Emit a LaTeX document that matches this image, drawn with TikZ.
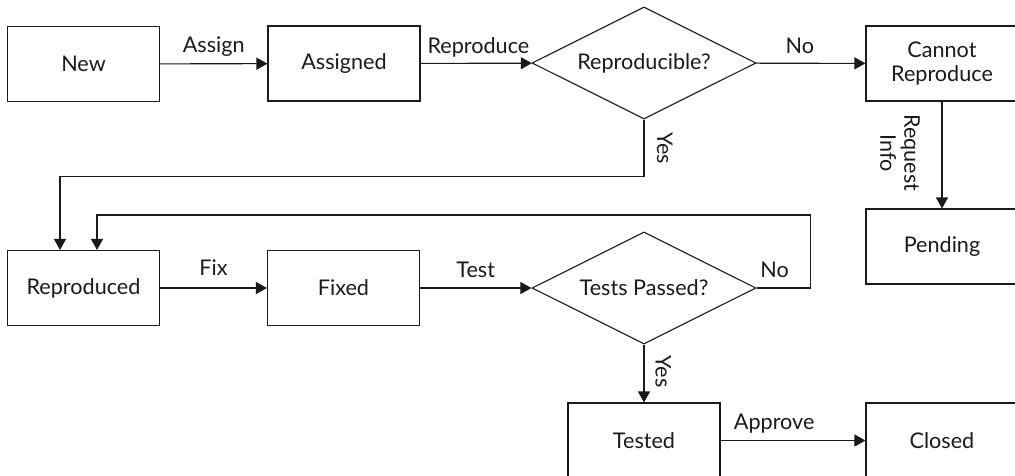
\documentclass[tikz,border=0pt]{standalone}
\usepackage{fontspec}
\setmainfont{Lato}
\usetikzlibrary{arrows.meta,shapes.geometric,calc}
\definecolor{ink}{HTML}{1A1A1A}
\begin{document}
\begin{tikzpicture}[x=1pt,y=-1pt,
  txt/.style={font=\fontsize{21.6}{24}\selectfont, text=ink},
  box/.style={txt, draw=ink, line width=1.1pt, minimum width=152pt, minimum height=75pt, inner sep=0pt, align=center},
  dec/.style={txt, draw=ink, line width=1.1pt, diamond, aspect=2, minimum width=224pt, minimum height=112pt, inner sep=0pt},
  arr/.style={draw=ink, line width=1.1pt, -{Triangle[length=11pt,width=12pt]}},
  lab/.style={txt, anchor=base, inner sep=0pt},
]
\clip (0,0) rectangle (1015,475);
\fill[white] (0,0) rectangle (1015,475);

\node[box] (new) at (83.5,64) {New};
\node[box] (asg) at (344,63.5) {Assigned};
\node[dec] (rep) at (644,63) {Reproducible?};
\node[box] (cnr) at (942,63.5) {Cannot\\Reproduce};
\node[box] (pen) at (942,246.5) {Pending};
\node[box] (rpd) at (83.5,288) {Reproduced};
\node[box] (fix) at (343.5,288) {Fixed};
\node[dec] (tps) at (644,288) {Tests Passed?};
\node[box] (tst) at (644,440.5) {Tested};
\node[box] (cls) at (942,440.5) {Closed};

\draw[arr] (new) -- node[lab, yshift=11pt] (lAssign) {Assign} (asg);
\draw[arr] (asg) -- node[lab, pos=0.52, yshift=10pt] (lRepro) {Reproduce} (rep);
\draw[arr] (rep) -- node[lab, pos=0.4, yshift=10pt] (lNo1) {No} (cnr);
\draw[arr] (cnr) -- (pen);
\node[txt, rotate=-90, align=center, inner sep=0pt] (lReq) at (900,153) {Request\\Info};

\draw[arr] (rep.south) -- ++(0,57) -| ([xshift=-23.5pt]rpd.north);
\node[lab, rotate=-90] (lYes1) at ($(rep.south)+(13,28.5)$) {Yes};

\draw[arr] (rpd) -- node[lab, yshift=13pt] (lFix) {Fix} (fix);
\draw[arr] (fix) -- node[lab, yshift=11pt] (lTest) {Test} (tps);

\draw[arr] (tps.east) -- ++(54,0) -- ++(0,-73) -| ([xshift=13.5pt]rpd.north);
\node[lab] (lNo2) at ($(tps.east)+(18,-11)$) {No};

\draw[arr] (tps.south) -- (tst.north);
\node[lab, rotate=-90] (lYes2) at ($(tps.south)+(11.5,27)$) {Yes};

\draw[arr] (tst) -- node[lab, pos=0.37, yshift=11pt] (lApp) {Approve} (cls);
\end{tikzpicture}
\end{document}
